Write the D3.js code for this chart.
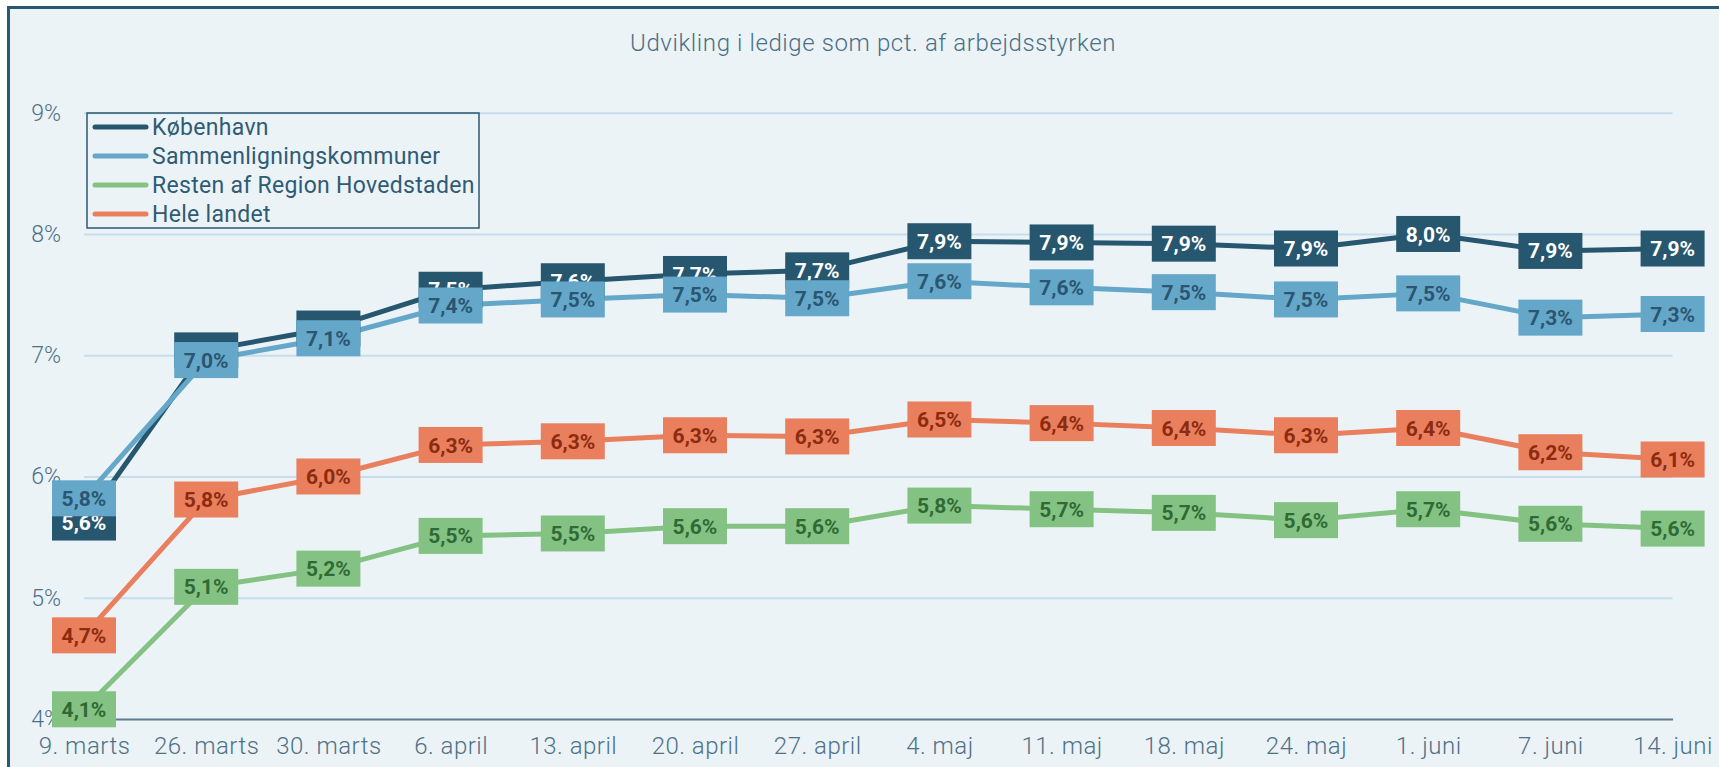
<!DOCTYPE html>
<html>
<head>
<meta charset="utf-8">
<script src="https://cdn.jsdelivr.net/npm/d3@7"></script>
<style>
  body { margin: 0; background: #fff; }
  svg { display: block; }
  .tick text { font-family: Roboto, sans-serif; }
</style>
</head>
<body>
<div id="chart"></div>
<script>
// data
var dates = ["9. marts", "26. marts", "30. marts", "6. april", "13. april", "20. april", "27. april",
             "4. maj", "11. maj", "18. maj", "24. maj", "1. juni", "7. juni", "14. juni"];
var kobenhavn = [5.62, 7.04, 7.22, 7.54, 7.61, 7.67, 7.70, 7.94, 7.93, 7.92, 7.88, 8.00, 7.86, 7.88];
var sammenligning = [5.82, 6.96, 7.14, 7.41, 7.46, 7.50, 7.47, 7.61, 7.56, 7.52, 7.46, 7.51, 7.31, 7.34];
var resten = [4.08, 5.09, 5.24, 5.51, 5.53, 5.59, 5.59, 5.76, 5.73, 5.70, 5.64, 5.73, 5.61, 5.57];
var heleLandet = [4.69, 5.81, 6.00, 6.26, 6.29, 6.34, 6.33, 6.47, 6.44, 6.40, 6.34, 6.40, 6.20, 6.14];
var seriesNames = ["København", "Sammenligningskommuner", "Resten af Region Hovedstaden", "Hele landet"];
var yTicks = [4, 5, 6, 7, 8, 9];

var colors = ["#27566f", "#64a7c9", "#84c283", "#e97f5c"];
var labelColors = ["#ffffff", "#2b5570", "#2f6a35", "#8c2b10"];

var series = [kobenhavn, sammenligning, resten, heleLandet].map(function(vals, i) {
  return { name: seriesNames[i], color: colors[i], textColor: labelColors[i],
           values: vals.map(function(v, j) { return { date: dates[j], value: v }; }) };
});

var W = 1719, H = 767;
var plotLeft = 84, plotRight = 1672.6, plotTop = 112.7, plotBottom = 719;

var svg = d3.select("#chart").append("svg")
    .attr("width", W)
    .attr("height", H);

// panel with frame
svg.append("rect")
    .attr("x", 8.5).attr("y", 7.5)
    .attr("width", W + 20).attr("height", H + 20)
    .attr("fill", "#ecf3f7")
    .attr("stroke", "#2a5a73")
    .attr("stroke-width", 3);

var x = d3.scalePoint().domain(dates).range([plotLeft, plotRight]);
var y = d3.scaleLinear().domain([4, 9]).range([plotBottom, plotTop]);

// title
svg.append("text")
    .attr("x", 873).attr("y", 51)
    .attr("text-anchor", "middle")
    .style("font-family", "Roboto, sans-serif")
    .style("font-weight", 300)
    .style("font-size", "24px")
    .style("letter-spacing", "0.6px")
    .style("fill", "#4a6f86")
    .text("Udvikling i ledige som pct. af arbejdsstyrken");

// y grid
svg.append("g")
    .attr("class", "y-grid")
    .attr("transform", "translate(" + plotLeft + ",0)")
    .call(d3.axisLeft(y).tickValues(yTicks.slice(1)).tickSize(-(plotRight - plotLeft)).tickFormat(""))
    .call(function(g) { g.select(".domain").remove(); })
    .selectAll("line")
      .attr("stroke", "#c6deeb")
      .attr("stroke-width", 2);

// y labels
svg.append("g")
    .attr("class", "y axis")
    .attr("transform", "translate(" + plotLeft + ",0)")
    .call(d3.axisLeft(y).tickValues(yTicks).tickSize(0).tickPadding(23)
      .tickFormat(function(d) { return d + "%"; }))
    .call(function(g) { g.select(".domain").remove(); })
    .selectAll("text")
      .style("font-size", "23px")
      .style("font-weight", 300)
      .style("fill", "#4e7188");

// x axis
var xAxis = svg.append("g")
    .attr("class", "x axis")
    .attr("transform", "translate(0," + plotBottom + ")")
    .call(d3.axisBottom(x).tickSize(0).tickPadding(18));
xAxis.select(".domain")
    .attr("stroke", "#5d7d92")
    .attr("stroke-width", 2);
xAxis.selectAll("text")
    .style("font-size", "24px")
    .style("font-weight", 300)
    .style("letter-spacing", "0.5px")
    .style("fill", "#4e7188");

// lines
var line = d3.line()
    .x(function(d) { return x(d.date); })
    .y(function(d) { return y(d.value); });

svg.selectAll(".line")
    .data(series)
  .enter().append("path")
    .attr("class", "line")
    .attr("fill", "none")
    .attr("stroke", function(d) { return d.color; })
    .attr("stroke-width", 5)
    .attr("stroke-linejoin", "round")
    .attr("d", function(d) { return line(d.values); });

// value labels
var fmt = function(v) { return d3.format(".1f")(v).replace(".", ",") + "%"; };
var boxW = 64, boxH = 36;

series.forEach(function(s) {
  var g = svg.append("g").attr("class", "labels");
  var lab = g.selectAll("g")
      .data(s.values)
    .enter().append("g")
      .attr("transform", function(d) { return "translate(" + x(d.date) + "," + y(d.value) + ")"; });
  lab.append("rect")
      .attr("x", -boxW / 2).attr("y", -boxH / 2)
      .attr("width", boxW).attr("height", boxH)
      .attr("fill", s.color);
  lab.append("text")
      .attr("text-anchor", "middle")
      .attr("dy", "0.36em")
      .style("font-family", "Roboto, sans-serif")
      .style("font-weight", "bold")
      .style("font-size", "21px")
      .style("fill", s.textColor)
      .text(function(d) { return fmt(d.value); });
});

// legend
var legend = svg.append("g").attr("class", "legend");
legend.append("rect")
    .attr("x", 87).attr("y", 113)
    .attr("width", 392).attr("height", 115)
    .attr("fill", "none")
    .attr("stroke", "#2a5a73")
    .attr("stroke-width", 1.5);

var item = legend.selectAll(".legend-item")
    .data(series)
  .enter().append("g")
    .attr("class", "legend-item")
    .attr("transform", function(d, i) { return "translate(0," + (127 + i * 29) + ")"; });
item.append("line")
    .attr("x1", 95).attr("x2", 146)
    .attr("stroke", function(d) { return d.color; })
    .attr("stroke-width", 5)
    .attr("stroke-linecap", "round");
item.append("text")
    .attr("x", 152)
    .attr("dy", "0.36em")
    .style("font-family", "Roboto, sans-serif")
    .style("font-size", "23px")
    .style("letter-spacing", "0.3px")
    .style("fill", "#2f5b74")
    .text(function(d) { return d.name; });
</script>
</body>
</html>
